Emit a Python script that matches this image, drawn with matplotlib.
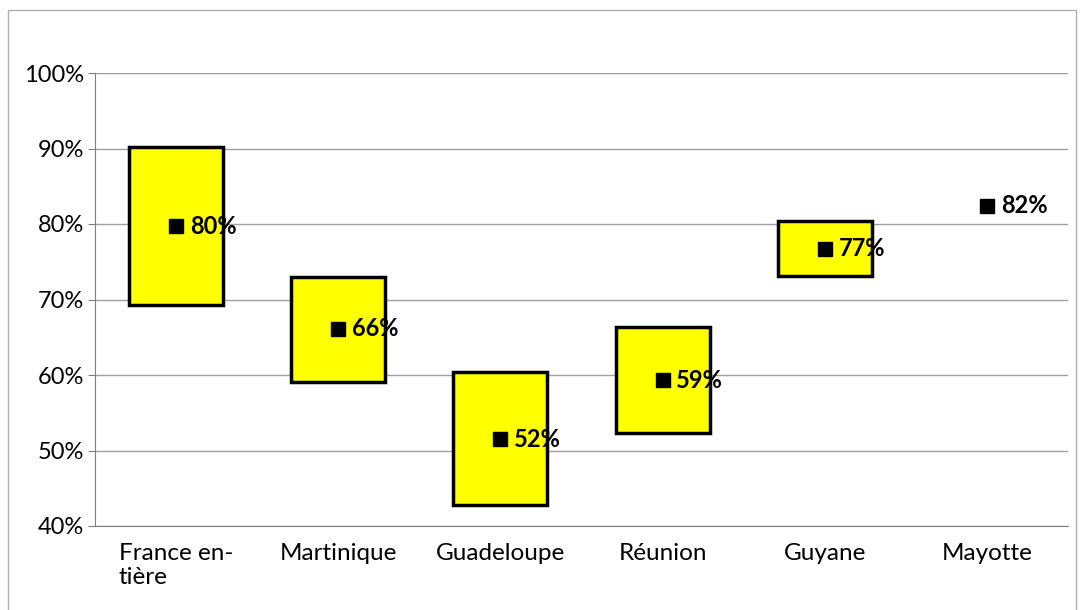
import matplotlib.pyplot as plt
from matplotlib.patches import Rectangle
from matplotlib.ticker import FuncFormatter

# données
regions = ["France en-\ntière", "Martinique", "Guadeloupe", "Réunion", "Guyane", "Mayotte"]
bas = [69.3, 59.1, 42.8, 52.3, 73.1, None]
haut = [90.2, 73.0, 60.4, 66.4, 80.4, None]
valeurs = [79.7, 66.1, 51.5, 59.3, 76.7, 82.4]
etiquettes = ["80%", "66%", "52%", "59%", "77%", "82%"]

plt.rcParams['font.family'] = ['Lato', 'DejaVu Sans']

fig = plt.figure(figsize=(10.82, 6.1), dpi=100)
ax = fig.add_axes([95/1082, 1-526/610, (1068-95)/1082, (526-73)/610])

# cadre extérieur gris
fig.patches.append(Rectangle((8/1082, -0.01), (1076-8)/1082, 1-10/610+0.01,
                             transform=fig.transFigure, fill=False,
                             edgecolor="#b0b0b0", linewidth=1))

x = list(range(len(regions)))
largeur = 0.58
for i in x:
    if bas[i] is not None:
        ax.add_patch(Rectangle((i - largeur/2, bas[i]), largeur, haut[i]-bas[i],
                               facecolor="#ffff00", edgecolor="black",
                               linewidth=2.5, zorder=3))
ax.plot(x, valeurs, linestyle="none", marker="s", markersize=10,
        color="black", zorder=4)
for i in x:
    ax.text(i + 0.085, valeurs[i], etiquettes[i], fontsize=17, fontweight="bold",
            va="center", ha="left", zorder=5)

ax.set_xlim(-0.5, 5.5)
ax.set_ylim(40, 100)
ax.set_yticks(range(40, 101, 10))
ax.yaxis.set_major_formatter(FuncFormatter(lambda v, p: "%d%%" % v))
ax.set_xticks(x)
ax.set_xticklabels(regions, fontsize=17.5, linespacing=1.2, va="top")
for lab in ax.get_xticklabels():
    lab.set_multialignment("left")
ax.tick_params(axis="y", labelsize=17, length=5, color="#808080", pad=3)
ax.tick_params(axis="x", length=0, pad=12)
ax.grid(axis="y", color="#a0a0a0", linewidth=1, zorder=0)
ax.set_axisbelow(True)
for s in ["top", "right"]:
    ax.spines[s].set_visible(False)
ax.spines["left"].set_color("#808080")
ax.spines["bottom"].set_color("#808080")

fig.savefig("out.png", dpi=100)
